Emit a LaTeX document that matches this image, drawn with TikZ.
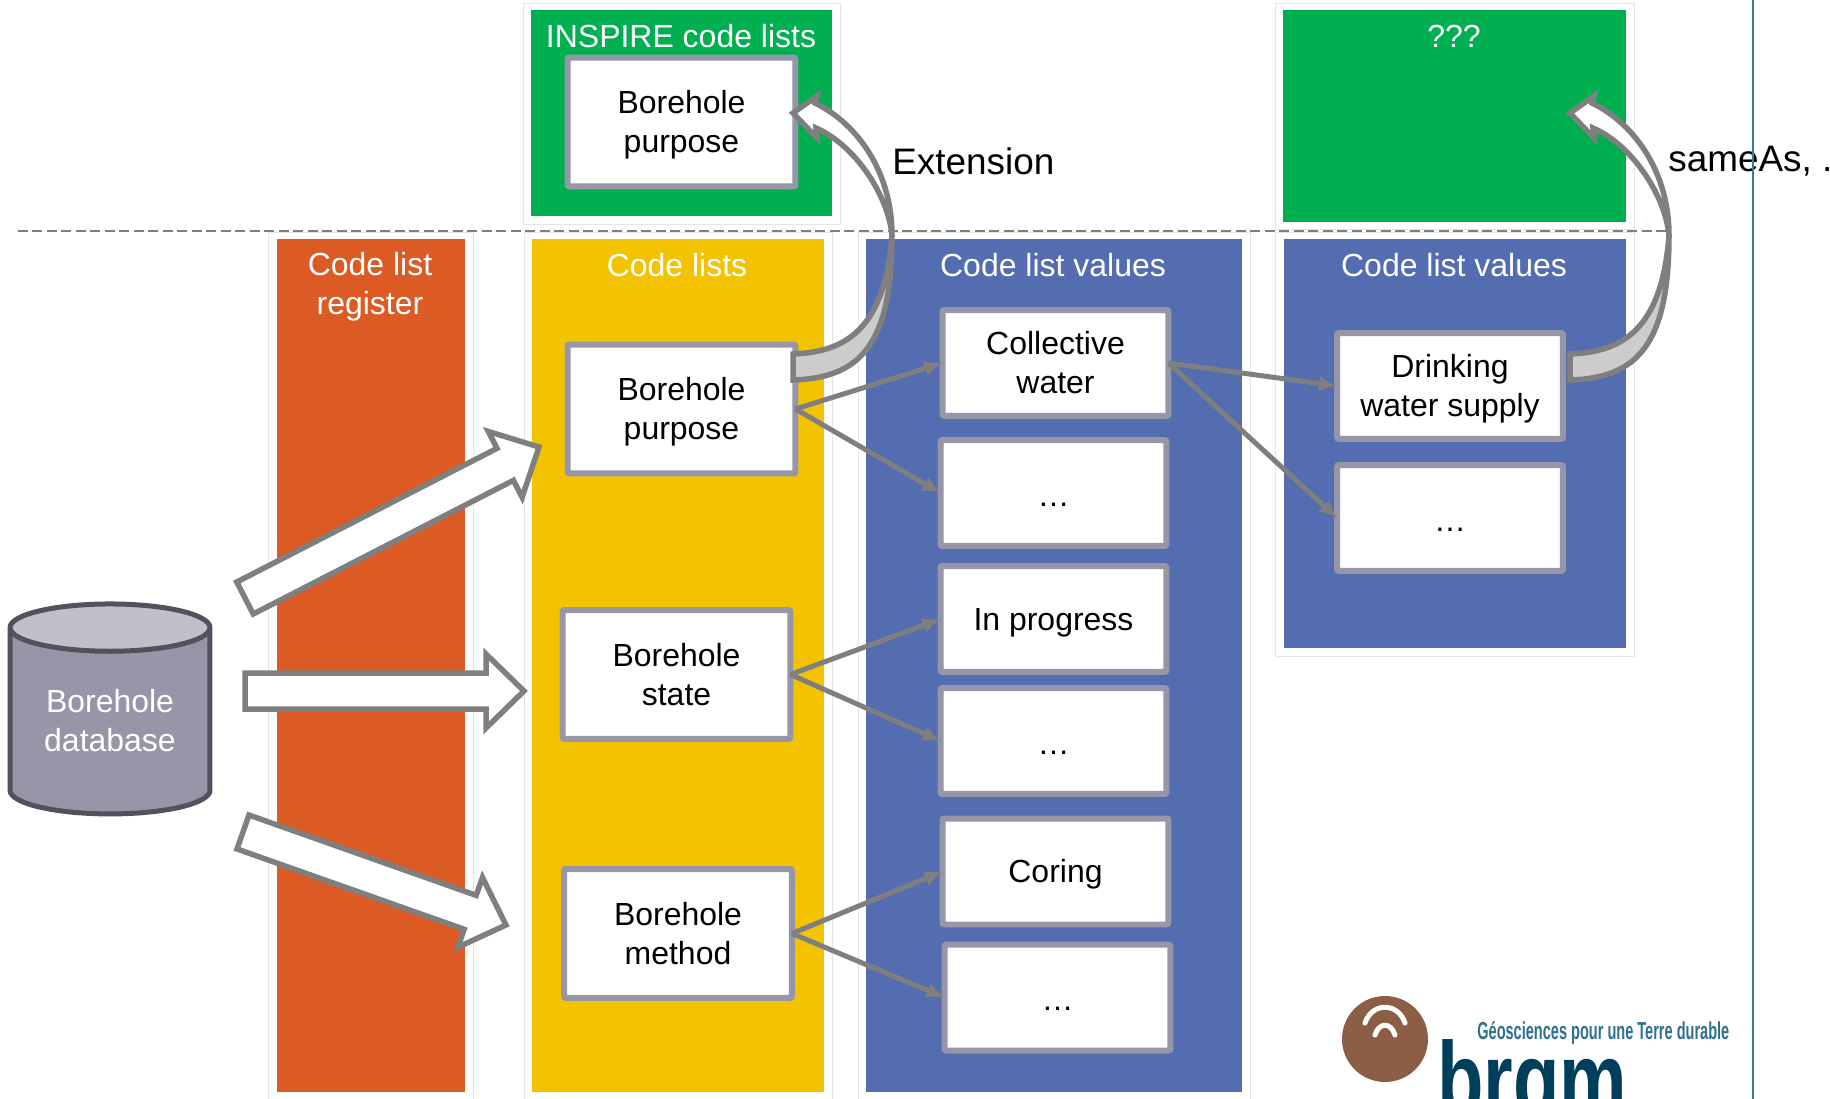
\documentclass[tikz,border=0pt]{standalone}
\usepackage{fontspec}
\setmainfont{Liberation Sans}
\usetikzlibrary{calc,shapes.geometric,arrows.meta}
\definecolor{panelorange}{HTML}{DC5A23}
\definecolor{panelyellow}{HTML}{F4C300}
\definecolor{panelblue}{HTML}{536DB0}
\definecolor{panelgreen}{HTML}{00B050}
\definecolor{boxline}{HTML}{9696A8}
\definecolor{arrowgray}{HTML}{7F7F7F}
\definecolor{brgmbrown}{HTML}{8C5E45}
\definecolor{brgmblue}{HTML}{003F5C}
\definecolor{slogancol}{HTML}{2F6F8F}
\definecolor{framecol}{HTML}{3A7A96}
\tikzset{
  halo/.style={fill=white,draw=black!10,line width=0.02cm},
  paneltitle/.style={text=white,align=center,font=\fontsize{18.2}{22.1}\selectfont},
  codebox/.style={draw=boxline,fill=white,line width=0.12cm,rounded corners=0.04cm,align=center,outer sep=0pt,
    minimum width=4.56cm,minimum height=2.58cm,font=\fontsize{18.2}{22.1}\selectfont,
    execute at begin node={\rule{0pt}{19.4pt}},execute at end node=\strut},
  valuebox/.style={codebox,minimum width=4.52cm,minimum height=2.12cm},
  link/.style={draw=arrowgray,line width=0.1cm,-{Latex[length=0.36cm,width=0.32cm]}},
  blockline/.style={draw=arrowgray,fill=white,line width=0.11cm,miter limit=10},
  bigtext/.style={anchor=west,inner sep=0pt,font=\fontsize{21}{25}\selectfont}
}
\newcommand{\twolines}[2]{\raisebox{0pt}[0pt][0pt]{\begin{tabular}{@{}c@{}}#1\\#2\end{tabular}}}
\newcommand{\lowdots}{\raisebox{-1.2pt}[0pt][0pt]{…}}
\newcommand{\blockarrow}[2]{%
  \coordinate (hb) at ($(#2)!.76cm!(#1)$);
  \draw[blockline] ($(#1)!.36cm!90:(#2)$) -- ($(hb)!.36cm!90:(#2)$) -- ($(hb)!.74cm!90:(#2)$) -- (#2)
    -- ($(hb)!.74cm!-90:(#2)$) -- ($(hb)!.36cm!-90:(#2)$) -- ($(#1)!.36cm!-90:(#2)$) -- cycle;
}
\begin{document}
\begin{tikzpicture}[x=0.02cm,y=-0.02cm]
  \useasboundingbox (0,0) rectangle (1830,1099);
  \clip (0,0) rectangle (1830,1099);
  \draw[halo] (523,3) rectangle (840,224);
  \draw[halo] (1275,3) rectangle (1634,229);
  \draw[halo] (268,232) rectangle (473,1110);
  \draw[halo] (524,232) rectangle (832,1110);
  \draw[halo] (858,232) rectangle (1250,1110);
  \draw[halo] (1275,232) rectangle (1634,656);
  \fill[panelgreen] (531,10) rectangle (832,216);
  \fill[panelgreen] (1283,10) rectangle (1626,222);
  \fill[panelorange] (277,239) rectangle (465,1092);
  \fill[panelyellow] (532,239) rectangle (824,1092);
  \fill[panelblue] (866,239) rectangle (1242,1092);
  \fill[panelblue] (1284,239) rectangle (1626,648);
  \node[paneltitle] (inspire) at (681,36) {INSPIRE code lists};
  \node[paneltitle] (unknown) at (1454,36) {???};
  \node[paneltitle] (register) at (370,287) {Code list\\register};
  \node[paneltitle] (lists) at (677,265) {Code lists};
  \node[paneltitle] (values) at (1053,265) {Code list values};
  \node[paneltitle] (valuestwo) at (1454,265) {Code list values};
  % separation
  \coordinate (sepleft) at (18,231);
  \coordinate (sepright) at (1668,231);
  \draw[arrowgray,line width=0.03cm,dash pattern=on 0.2cm off 0.09cm] (sepleft) -- (sepright);
  % boxes
  \node[codebox] (inspurpose) at (681.5,122) {\twolines{Borehole}{purpose}};
  \node[codebox] (purpose) at (681.5,409) {\twolines{Borehole}{purpose}};
  \node[codebox] (state) at (676.5,674.5) {\twolines{Borehole}{state}};
  \node[codebox] (method) at (678,933.5) {\twolines{Borehole}{method}};
  \node[valuebox] (collective) at (1055.5,363) {\twolines{Collective}{water}};
  \node[valuebox] (dotsa) at (1053.5,493) {\lowdots};
  \node[valuebox] (progress) at (1053.5,619) {In progress};
  \node[valuebox] (dotsb) at (1053.5,741) {\lowdots};
  \node[valuebox] (coring) at (1055.5,871.5) {Coring};
  \node[valuebox] (dotsc) at (1057.5,997.5) {\lowdots};
  \node[valuebox] (drinking) at (1450,386) {\twolines{Drinking}{water supply}};
  \node[valuebox] (dotsd) at (1450,518) {\lowdots};
  \draw[link] (purpose.east) -- (collective.west);
  \draw[link] (purpose.east) -- (dotsa.west);
  \draw[link] (state.east) -- (progress.west);
  \draw[link] (state.east) -- (dotsb.west);
  \draw[link] (method.east) -- (coring.west);
  \draw[link] (method.east) -- (dotsc.west);
  \draw[link] (collective.east) -- (drinking.west);
  \draw[link] (collective.east) -- (dotsd.west);
  % database and block arrows
  \node[cylinder,shape border rotate=90,aspect=0.33,draw=black!45!boxline,line width=0.1cm,
    cylinder uses custom fill,cylinder body fill=boxline,cylinder end fill=boxline!60!white,
    minimum width=4cm,minimum height=4.2cm,text=white,align=center,
    execute at end node={\rule[-6pt]{0pt}{6pt}},
    font=\fontsize{18.2}{22.1}\selectfont] (database) at (110,726) {Borehole\\database};
  \coordinate (taila) at (245,598);
  \coordinate (tipa) at (539,447);
  \coordinate (tailb) at (245,691);
  \coordinate (tipb) at (524,691);
  \coordinate (tailc) at (243,832);
  \coordinate (tipc) at (506,925);
  \blockarrow{taila}{tipa}
  \blockarrow{tailb}{tipb}
  \blockarrow{tailc}{tipc}
  % curved arrows
  \foreach \dx in {0,777} {
    \begin{scope}[shift={(\dx,0)}]
      \draw[arrowgray,fill=black!20,line width=0.11cm,line join=miter] (793,354) .. controls (845,352) and (885,330) .. (892,235)
        .. controls (892,345) and (860,378) .. (793,380) -- cycle;
      \draw[arrowgray,fill=white,line width=0.11cm,miter limit=10] (892,235) .. controls (892,175) and (860,125) .. (815,103)
        -- (817,96) -- (793,113) -- (817,138) -- (816,128) .. controls (855,145) and (888,195) .. (892,235);
    \end{scope}
  }
  \node[bigtext] (extension) at (892,161) {Extension};
  \node[bigtext] (sameas) at (1668,161) {sameAs, ...};
  % frame line
  \coordinate (frametop) at (1753,0);
  \coordinate (framebottom) at (1753,1099);
  \draw[framecol,line width=0.045cm] (frametop) -- (framebottom);
  % logo
  \fill[brgmbrown] (1385,1039) circle (43);
  \draw[white,line width=0.1cm,line cap=round] (1365,1023) .. controls (1372,1002) and (1398,1002) .. (1405,1023);
  \draw[white,line width=0.1cm,line cap=round] (1375,1035) .. controls (1379,1022) and (1391,1022) .. (1395,1035);
  \node[anchor=base west,inner sep=0pt,text=slogancol] (slogan) at (1477,1039)
    {\resizebox{5.04cm}{0.36cm}{\bfseries Géosciences pour une Terre durable}};
  \node[anchor=base west,inner sep=0pt,text=brgmblue] (brgm) at (1437,1116)
    {\resizebox{3.8cm}{1.54cm}{\bfseries brgm}};
\end{tikzpicture}
\end{document}
